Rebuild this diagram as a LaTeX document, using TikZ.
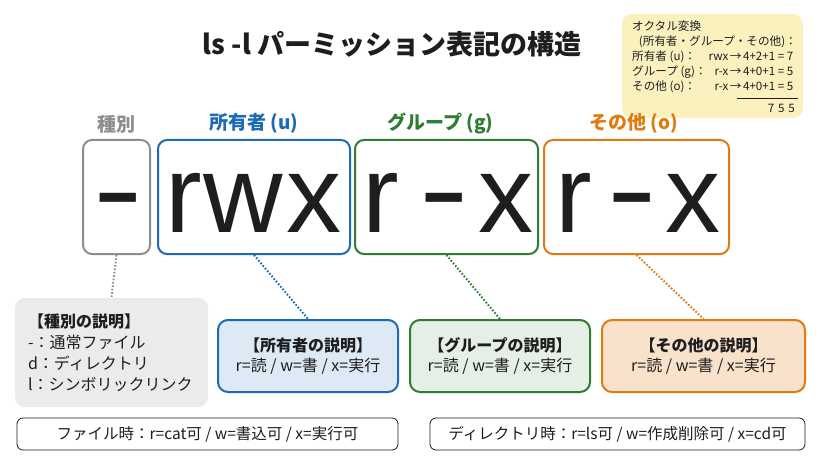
\documentclass[tikz,border=0pt]{standalone}
\usepackage{fontspec}
\setmainfont{Noto Sans CJK JP}
\newfontfamily\letterfont{Liberation Sans}
\usetikzlibrary{positioning}
\definecolor{kindgray}{HTML}{8E8E8E}
\definecolor{ownerblue}{HTML}{1C6BB4}
\definecolor{groupgreen}{HTML}{2E7D32}
\definecolor{otherorange}{HTML}{E07B12}
\definecolor{memoyellow}{HTML}{FBF1BE}
\definecolor{inkblack}{HTML}{1E1E1E}
\newcommand{\wdash}{\scalebox{1.35}[1.05]{-}}
\tikzset{
  permbox/.style={
    draw,
    rounded corners=9pt,
    line width=2pt,
    minimum height=114pt,
    inner sep=0pt
  },
  bigchar/.style={
    font=\letterfont\fontsize{110}{110}\selectfont,
    text=inkblack,
    inner sep=0pt,
    anchor=base
  },
  head/.style={
    font=\fontsize{19}{19}\selectfont\bfseries,
    inner sep=1pt
  },
  descbox/.style={
    rounded corners=10pt,
    line width=2pt,
    align=center,
    font=\fontsize{16}{20}\selectfont,
    minimum width=180pt,
    minimum height=72pt,
    text=inkblack
  },
  link/.style={
    line width=2pt,
    dash pattern=on 1.6pt off 1.8pt
  },
  notebox/.style={
    draw=inkblack,
    rounded corners=6pt,
    line width=0.8pt,
    minimum height=32pt,
    font=\fontsize{15.5}{15.5}\selectfont,
    text=inkblack
  },
  memo/.style={
    font=\fontsize{11.6}{15}\selectfont,
    text=inkblack,
    inner sep=0pt
  }
}

\begin{document}
\begin{tikzpicture}[x=1pt, y=-1pt, node distance=4pt]
  \useasboundingbox[fill=white] (0,0) rectangle (819,457);

  % title and octal memo
  \node[font=\fontsize{27}{27}\selectfont\bfseries, text=inkblack] (title) at (392,44) {ls -l パーミッション表記の構造};
  \node[fill=memoyellow, rounded corners=10pt, minimum width=181pt, minimum height=104pt] (memo) at (712.5,66) {};
  \node[memo, anchor=west] (memotitle) at (632,26) {オクタル変換};
  \node[memo, anchor=east] (memosub) at (797,42) {(所有者・グループ・その他)：};
  \node[memo, anchor=north west] (memorows) at (632,50) {\begin{tabular}{@{}l@{\hspace{2pt}}r@{\hspace{1.5pt}}c@{\hspace{1.5pt}}l@{}}
    所有者 (u)： & rwx & → & 4+2+1 = 7\\
    グループ (g)： & r-x & → & 4+0+1 = 5\\
    その他 (o)： & r-x & → & 4+0+1 = 5
  \end{tabular}};
  \draw[line width=0.8pt, inkblack] (737,98) -- (798,98);
  \node[memo, anchor=east] (memosum) at (795,108) {7\,\,5\,\,5};

  % permission string
  \node[permbox, draw=kindgray, minimum width=67pt] (kind) at (116.5,197) {};
  \node[permbox, draw=ownerblue, minimum width=192pt] (owner) at (254,197) {};
  \node[permbox, draw=groupgreen, minimum width=183pt] (group) at (446.5,197) {};
  \node[permbox, draw=otherorange, minimum width=185pt] (other) at (636.5,197) {};

  \node[bigchar] (kindc) at (118,229) {\wdash};
  \node[bigchar] (ownr) at (184,233) {r};
  \node[bigchar] (ownw) at (243,233) {w};
  \node[bigchar] (ownx) at (314,233) {x};
  \node[bigchar] (grpr) at (381,233) {r};
  \node[bigchar] (grpd) at (444,229) {\wdash};
  \node[bigchar] (grpx) at (506,233) {x};
  \node[bigchar] (othr) at (574,233) {r};
  \node[bigchar] (othd) at (632,229) {\wdash};
  \node[bigchar] (othx) at (693,233) {x};

  \node[head, text=kindgray, above=of kind] (kindlabel) {種別};
  \node[head, text=ownerblue, above=of owner] (ownerlabel) {所有者 (u)};
  \node[head, text=groupgreen, above=of group.north, xshift=-6pt] (grouplabel) {グループ (g)};
  \node[head, text=otherorange, above=of other.north, xshift=-3pt] (otherlabel) {その他 (o)};

  % descriptions
  \node[descbox, fill=black!8, align=left, text width=167pt, minimum width=193pt, minimum height=109pt,
    font=\fontsize{16}{21}\selectfont] (kinddesc) at (111.5,352.5)
    {\textbf{【種別の説明】}\\-：通常ファイル\\d：ディレクトリ\\l：シンボリックリンク};
  \node[descbox, draw=ownerblue, fill=ownerblue!15] (ownerdesc) at (308,356)
    {\textbf{【所有者の説明】}\\r=読 / w=書 / x=実行};
  \node[descbox, draw=groupgreen, fill=groupgreen!12] (groupdesc) at (500,356)
    {\textbf{【グループの説明】}\\r=読 / w=書 / x=実行};
  \node[descbox, draw=otherorange, fill=otherorange!22, minimum width=203pt] (otherdesc) at (703.5,356)
    {\textbf{【その他の説明】}\\r=読 / w=書 / x=実行};

  \draw[link, kindgray] (kind.south) -- (kinddesc.north);
  \draw[link, ownerblue] (owner.south) -- (ownerdesc.north);
  \draw[link, groupgreen] (group.south) -- (groupdesc.north);
  \draw[link, otherorange] (other.south) -- (otherdesc.north);

  % file / directory notes
  \node[notebox, minimum width=381pt] (filenote) at (207.5,434) {ファイル時：r=cat可 / w=書込可 / x=実行可};
  \node[notebox, minimum width=375pt] (dirnote) at (617.5,434) {ディレクトリ時：r=ls可 / w=作成削除可 / x=cd可};
\end{tikzpicture}
\end{document}
